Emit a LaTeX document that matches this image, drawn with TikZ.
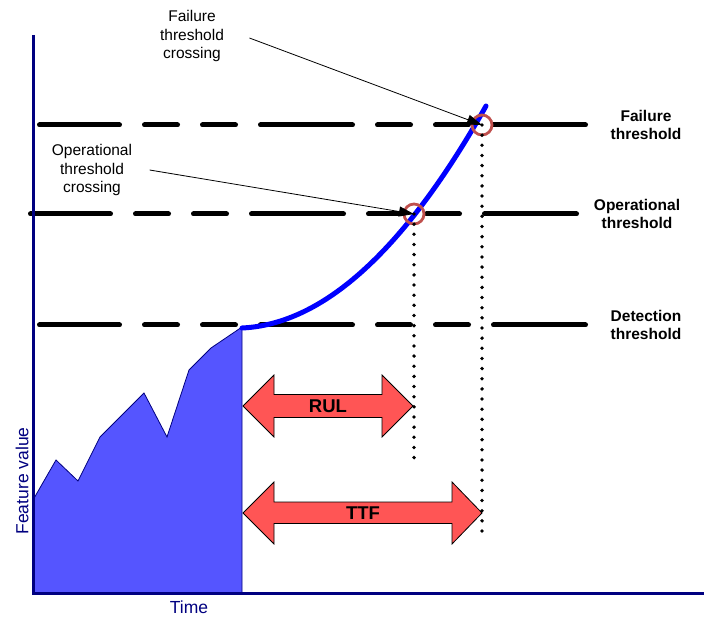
\documentclass[tikz,border=0pt]{standalone}
\usepackage{fontspec}
\setmainfont{Liberation Sans}
\usetikzlibrary{arrows.meta}
\definecolor{axisnavy}{RGB}{0,0,128}
\definecolor{histfill}{RGB}{85,85,255}
\definecolor{trendblue}{RGB}{0,0,255}
\definecolor{ringred}{RGB}{192,80,77}
\definecolor{spanred}{RGB}{255,85,85}
\begin{document}
\begin{tikzpicture}[x=1pt,y=-1pt,
  threshold/.style={line width=5pt, line cap=round,
    dash pattern=on 92pt off 25pt on 33pt off 25pt on 33pt off 25pt, dash phase=12pt},
  dropline/.style={line width=3.8pt, line cap=round, dash pattern=on 0pt off 10.15pt},
  ring/.style={draw=ringred, line width=2.8pt, circle, minimum size=20pt, inner sep=0pt},
  callout/.style={-{Triangle[length=15pt,width=10pt]}, line width=0.8pt},
  note/.style={font=\fontsize{15.5}{18.5}\selectfont, align=center},
  level/.style={font=\bfseries\fontsize{15.5}{18.5}\selectfont, align=center},
  span/.style={draw=black, line width=0.8pt, fill=spanred},
  spanlabel/.style={font=\bfseries\fontsize{18.5}{20}\selectfont},
  axislabel/.style={text=axisnavy, font=\fontsize{17.5}{20}\selectfont}]
\useasboundingbox (0,0) rectangle (704,617);

% threshold levels
\draw[threshold] (39.5,125) -- (589.5,125);
\draw[threshold] (30.5,214) -- (580.5,214);
\draw[threshold] (39.5,325) -- (589.5,325);

% observed feature history
\draw[fill=histfill, draw=axisnavy, line width=0.8pt]
  (33,500) -- (56,460) -- (78,481) -- (100,437) -- (144,393) -- (167,437)
  -- (189,370) -- (211,348) -- (242,327) -- (242,593) -- (33,593) -- cycle;

% projected degradation trend (parabola written as a cubic)
\draw[trendblue, line width=5pt, line cap=round]
  (242,328) .. controls (323.3,324.3) and (404.7,250.3) .. (486,106);

% axes
\draw[axisnavy, line width=3pt] (33,35) -- (33,593) -- (704,593);
\node[axislabel, rotate=90] (ylab) at (22,481) {Feature value};
\node[axislabel] (xlab) at (189,607) {Time};

% threshold crossings
\node[ring] (fring) at (482,125) {};
\node[ring] (oring) at (414,214) {};
\coordinate (fdrop) at (482,533.5);
\coordinate (odrop) at (414,458.5);
\draw[dropline] (fring.center) -- (fdrop);
\draw[dropline] (oring.center) -- (odrop);

% annotations
\node[note] (fnote) at (192,36) {Failure\\threshold\\crossing};
\node[note] (onote) at (92,170) {Operational\\threshold\\crossing};
\draw[callout] ([xshift=22pt,yshift=-2pt]fnote.east) -- (fring.center);
\draw[callout] ([xshift=14pt]onote.east) -- (oring.center);

\node[level] (flevel) at (646,125) {Failure\\threshold};
\node[level] (olevel) at (637,214) {Operational\\threshold};
\node[level] (dlevel) at (646,325) {Detection\\threshold};

% remaining useful life and time to failure spans
\draw[span] (243,406) -- (274,375) -- (274,394.5) -- (382,394.5) -- (382,375)
  -- (413,406) -- (382,437) -- (382,417.5) -- (274,417.5) -- (274,437) -- cycle;
\node[spanlabel] (rul) at (328,406) {RUL};
\draw[span] (243,513) -- (274,482) -- (274,502) -- (452,502) -- (452,482)
  -- (482,513) -- (452,544) -- (452,523.5) -- (274,523.5) -- (274,544) -- cycle;
\node[spanlabel] (ttf) at (363,513) {TTF};
\end{tikzpicture}
\end{document}
